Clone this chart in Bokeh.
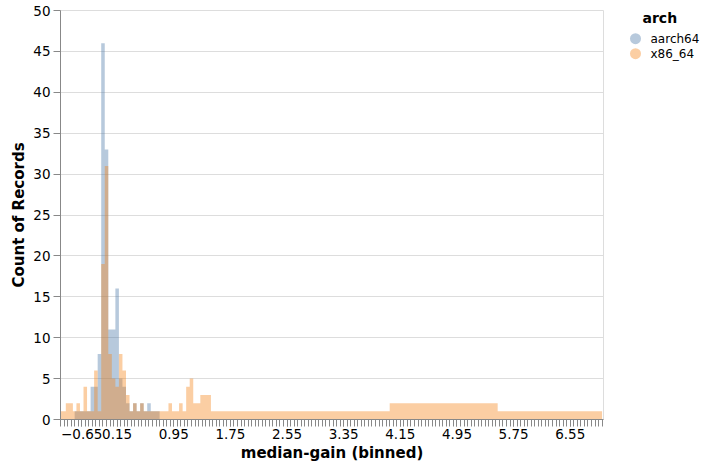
from bokeh.plotting import figure
from bokeh.layouts import row
from bokeh.models import (Range1d, FixedTicker, CustomJSTickFormatter, ColumnDataSource)
from bokeh.core.properties import value
from bokeh.embed import file_html
from bokeh.resources import INLINE

# ---- data (bin position of median-gain, count of records) ----
series_names = ["aarch64", "x86_64"]
series_colors = ["#4c78a8", "#f58518"]
legend_title = "arch"

aarch64_x = [-0.45, -0.35, -0.25, -0.20, -0.15, -0.10, -0.05, 0.00, 0.05, 0.10,
             0.15, 0.20, 0.25, 0.30, 0.35, 0.40, 0.45, 0.50, 0.55, 0.60, 0.65, 0.75]
aarch64_count = [1, 1, 1, 4, 4, 8, 46, 33, 11, 11,
                 16, 5, 4, 2, 1, 2, 1, 2, 1, 2, 1, 1]

x86_64_x = [-0.65, -0.60, -0.55, -0.50, -0.45, -0.40, -0.35, -0.30, -0.25, -0.20,
            -0.15, -0.10, -0.05, 0.00, 0.05, 0.10, 0.15, 0.20, 0.25, 0.30,
            0.35, 0.40, 0.45, 0.50, 0.55, 0.65, 0.75, 0.85, 0.90, 0.95,
            1.00, 1.05, 1.10, 1.15, 1.20, 1.25, 1.30, 1.35, 1.40, 1.45,
            1.50, 2.60, 3.60, 4.40, 6.65, 7.00]
x86_64_count = [1, 1, 2, 2, 1, 2, 1, 4, 1, 1,
                6, 1, 19, 31, 8, 5, 4, 8, 6, 3,
                1, 2, 1, 2, 1, 1, 1, 1, 2, 1,
                1, 2, 1, 4, 5, 2, 2, 3, 3, 3,
                1, 1, 1, 2, 1, 1]

y_ticks = [0, 5, 10, 15, 20, 25, 30, 35, 40, 45, 50]
x_tick_labels = [-0.65, 0.15, 0.95, 1.75, 2.55, 3.35, 4.15, 4.95, 5.75, 6.55]
bin_step = 0.05
bin_count = 154
x_min, x_max = -0.65, 7.02
y_min, y_max = 0, 50

FONT = "DejaVu Sans"
LABEL_SIZE = "13.5px"
TITLE_SIZE = "15px"
H = 464
TICK = 7

p = figure(width=606, height=H, output_backend="svg", toolbar_location=None,
           x_range=Range1d(x_min, x_max), y_range=Range1d(y_min, y_max),
           min_border_left=60, min_border_right=3, min_border_top=10,
           min_border_bottom=H - 419)
p.outline_line_color = "#dddddd"
p.background_fill_color = "white"
p.border_fill_color = "white"

# layered step areas
for name, xs, cs, col in [("aarch64", aarch64_x, aarch64_count, series_colors[0]),
                          ("x86_64", x86_64_x, x86_64_count, series_colors[1])]:
    src = ColumnDataSource(dict(x=xs, y=cs, z=[0] * len(xs)))
    p.varea_step(x="x", y1="z", y2="y", step_mode="center", source=src,
                 fill_color=col, fill_alpha=0.4)

# grid
p.xgrid.visible = False
p.ygrid.ticker = FixedTicker(ticks=y_ticks)
p.ygrid.grid_line_color = "#dddddd"
p.ygrid.grid_line_width = 1

# y axis
ya = p.yaxis[0]
ya.ticker = FixedTicker(ticks=y_ticks)
ya.axis_line_color = "#888888"
ya.major_tick_line_color = "#888888"
ya.minor_tick_line_color = None
ya.major_tick_in = 0
ya.major_tick_out = TICK
ya.major_label_standoff = 3
ya.major_label_text_font = FONT
ya.major_label_text_font_size = LABEL_SIZE
ya.major_label_text_color = "#000000"
ya.axis_label = "Count of Records"
ya.axis_label_text_font = FONT
ya.axis_label_text_font_size = TITLE_SIZE
ya.axis_label_text_font_style = "bold"
ya.axis_label_text_color = "#000000"
ya.axis_label_standoff = 2

# x axis: bin-edge ticks, labels every 16 bins; first label flush-left
minor = [round(x_min + bin_step * i, 2) for i in range(bin_count)]
first_label_pos = round(x_tick_labels[0] + 6 * bin_step, 2)  # flush-left shift
major = [first_label_pos] + x_tick_labels[1:]
xa = p.xaxis[0]
xa.ticker = FixedTicker(ticks=major, minor_ticks=minor)
xa.formatter = CustomJSTickFormatter(args=dict(shifted=first_label_pos,
                                               first=x_tick_labels[0]), code="""
    const v = (Math.abs(tick - shifted) < 1e-6) ? first : tick;
    return v.toFixed(2).replace("-", "\u2212");
""")
xa.axis_line_color = "#888888"
xa.major_tick_line_color = "#888888"
xa.minor_tick_line_color = "#888888"
xa.major_tick_in = 0
xa.major_tick_out = TICK
xa.minor_tick_in = 0
xa.minor_tick_out = TICK
xa.major_label_standoff = 2
xa.major_label_text_font = FONT
xa.major_label_text_font_size = LABEL_SIZE
xa.major_label_text_color = "#000000"
xa.axis_label = "median-gain (binned)"
xa.axis_label_text_font = FONT
xa.axis_label_text_font_size = TITLE_SIZE
xa.axis_label_text_font_style = "bold"
xa.axis_label_text_color = "#000000"
xa.axis_label_standoff = 2

# legend panel (separate small figure in pixel-like coordinates, y downward)
LW = 97
lg = figure(width=LW, height=H, output_backend="svg", toolbar_location=None,
            title=None, x_range=Range1d(0, LW), y_range=Range1d(H, 0),
            x_axis_type=None, y_axis_type=None, min_border=0)
lg.xgrid.visible = False
lg.ygrid.visible = False
lg.outline_line_color = None
lg.background_fill_color = "white"
lg.border_fill_color = "white"

row_y = [32, 49]
lg.scatter(x=[29, 29], y=row_y, marker="circle", size=11,
           fill_color=series_colors, fill_alpha=0.4, line_color=None)
legend_src = ColumnDataSource(dict(
    x=[36, 44, 44],
    y=[8.5, row_y[0], row_y[1]],
    text=[legend_title] + series_names,
    size=["14px", "12px", "12px"],
    style=["bold", "normal", "normal"],
))
lg.text(x="x", y="y", text="text", source=legend_src, text_font=value(FONT),
        text_font_size="size", text_font_style="style", text_color="#000000",
        text_baseline="middle", text_align="left")

layout = row(p, lg)
open("out.html", "w").write(file_html(layout, INLINE))
